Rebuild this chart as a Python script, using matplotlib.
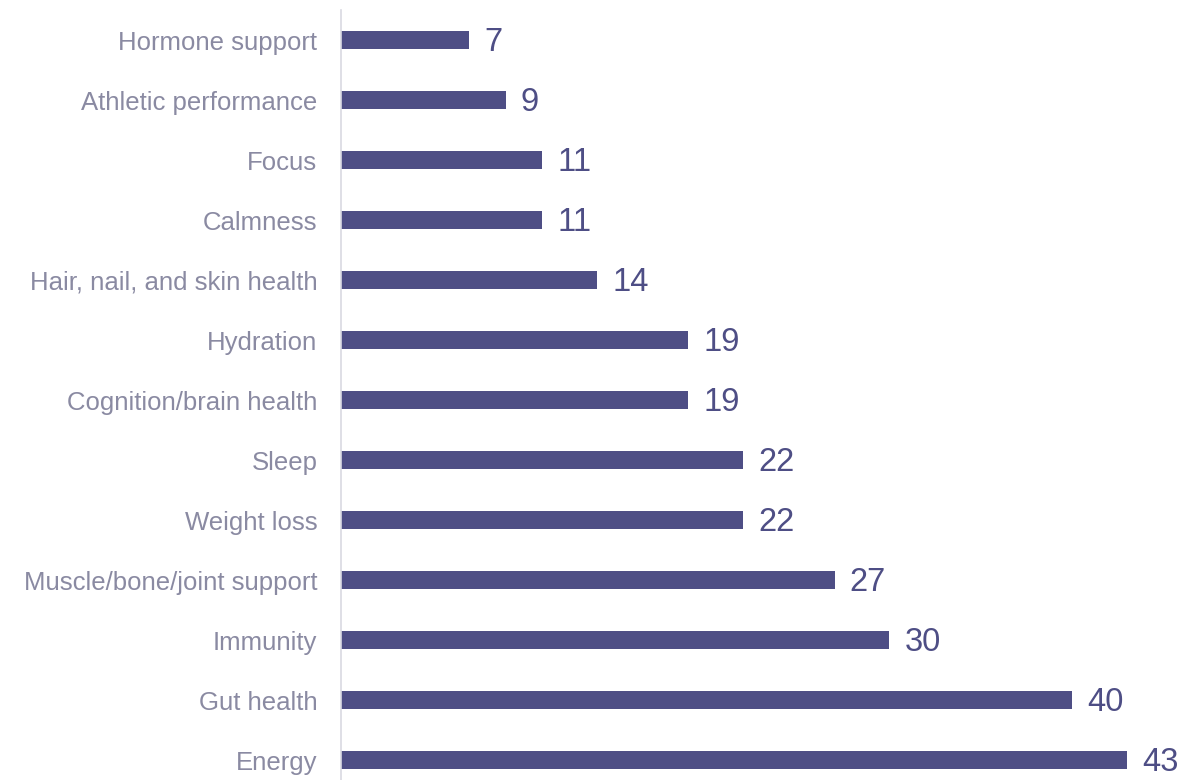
import matplotlib
matplotlib.use("Agg")
import matplotlib.pyplot as plt

categories = ["Hormone support", "Athletic performance", "Focus", "Calmness",
              "Hair, nail, and skin health", "Hydration", "Cognition/brain health",
              "Sleep", "Weight loss", "Muscle/bone/joint support", "Immunity",
              "Gut health", "Energy"]
values = [7, 9, 11, 11, 14, 19, 19, 22, 22, 27, 30, 40, 43]

plt.rcParams['font.family'] = ['Liberation Sans', 'DejaVu Sans']

W, H = 1185, 780
fig = plt.figure(figsize=(W / 100, H / 100), dpi=100)
ax = fig.add_axes([341 / W, 0, 1 - 341 / W, 770 / H])

bar_color = "#4e4e85"
ypos = list(range(len(categories)))
ax.barh(ypos, values, height=0.3, color=bar_color)
ax.set_ylim(12.33, -0.5)
ax.set_xlim(0, 46.17)

for y, v in zip(ypos, values):
    ax.annotate(str(v), (v, y), xytext=(11, -1.5), textcoords="offset points",
                va="center", ha="left", fontsize=23.5, color=bar_color)

ax.set_yticks(ypos)
ax.set_yticklabels(categories, fontsize=18.5, color="#8a8aa2")
ax.tick_params(axis="y", length=0, pad=17)
ax.set_xticks([])
for s in ["top", "right", "bottom"]:
    ax.spines[s].set_visible(False)
ax.spines["left"].set_color("#d9d9e2")
ax.spines["left"].set_linewidth(1.2)

fig.savefig("out.png", dpi=100)
